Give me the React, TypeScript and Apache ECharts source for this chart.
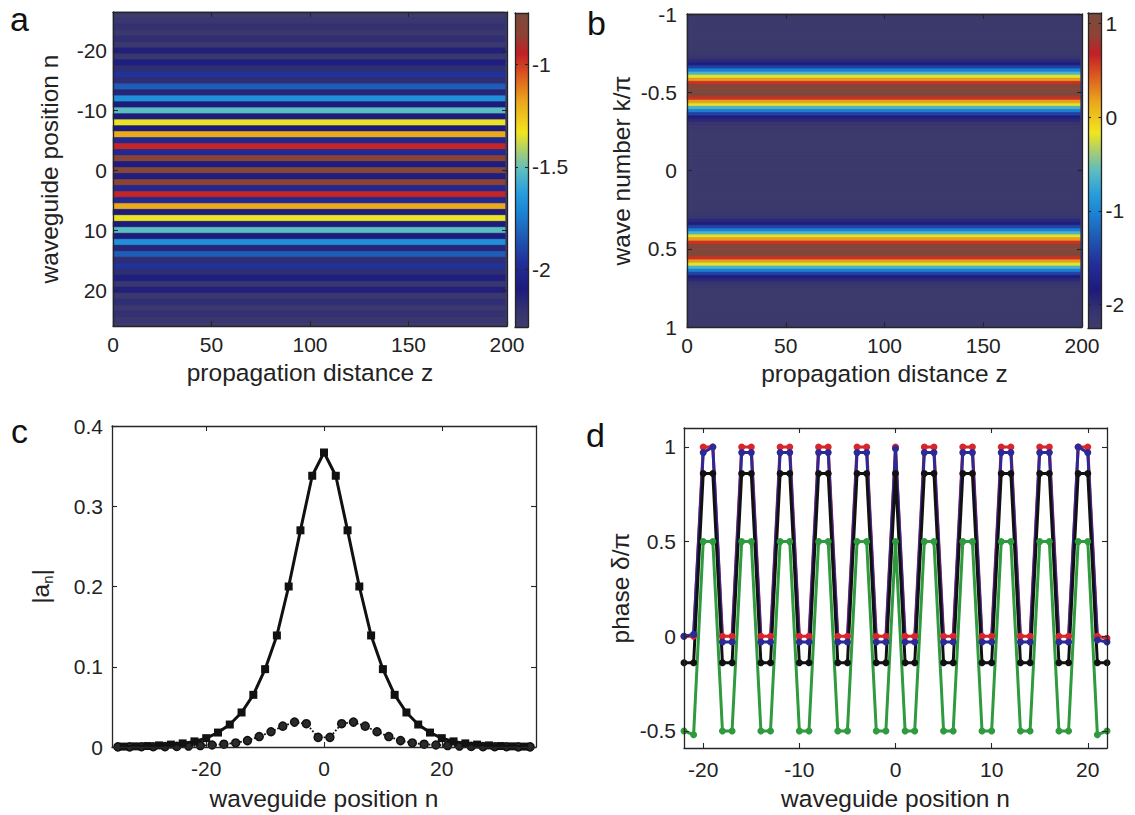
import React, { useEffect, useRef } from "react";
import * as echarts from "echarts";

const FONT = "'Liberation Sans', Arial, Helvetica, sans-serif";
const INK = "#262626";
const LABEL = "#222222";

// ---------- panel a : log intensity per waveguide row ----------
const waveguideRows = [
  -26, -25, -24, -23, -22, -21, -20, -19, -18, -17, -16, -15, -14, -13, -12, -11, -10, -9, -8, -7, -6, -5, -4, -3, -2, -1,
  0, 1, 2, 3, 4, 5, 6, 7, 8, 9, 10, 11, 12, 13, 14, 15, 16, 17, 18, 19, 20, 21, 22, 23, 24, 25, 26,
];
const intensityA = [
  -2.26, -2.23, -2.19, -2.24, -2.18, -2.24, -2.12, -2.23, -2.08, -2.18, -1.96, -2.18, -1.83, -2.14, -1.68, -2.1, -1.52,
  -2.1, -1.34, -2.1, -1.19, -2.0, -0.96, -2.0, -0.84, -2.08, -0.8, -2.08, -0.84, -2.0, -0.96, -2.0, -1.19, -2.1, -1.34,
  -2.1, -1.52, -2.1, -1.68, -2.14, -1.83, -2.18, -1.96, -2.18, -2.08, -2.23, -2.12, -2.24, -2.18, -2.24, -2.19, -2.23,
  -2.26,
];
const distanceSpan = [0, 199];
const distanceTicks = [0, 50, 100, 150, 200];
const waveguideTicksA = [-20, -10, 0, 10, 20];
const colorRangeA = [-2.28, -0.75];
const colorTicksA = [-2, -1.5, -1];

// ---------- panel b : spectrum vs wave number ----------
const waveNumberStep = 0.02;
const waveNumbers = Array.from({ length: 101 }, (_, i) => Math.round((-1 + i * waveNumberStep) * 100) / 100);
const spectrumB = [
  -2.2, -2.2, -2.2, -2.2, -2.2, -2.2, -2.2, -2.2, -2.2, -2.2, -2.2, -2.2, -2.2,
  -2.16, -2.1, -1.98, -1.8, -1.45, -1.05, -0.65, -0.2, 0.2, 0.6, 0.95, 1.05, 1.05, 0.95, 0.6, 0.2, -0.2, -0.65, -1.05,
  -1.45, -1.8, -1.98, -2.1, -2.16,
  -2.2, -2.2, -2.2, -2.2, -2.2, -2.2, -2.2, -2.2, -2.2, -2.2, -2.2, -2.2, -2.2, -2.2, -2.2, -2.2, -2.2, -2.2, -2.2,
  -2.2, -2.2, -2.2, -2.2, -2.2, -2.2, -2.2, -2.2,
  -2.16, -2.1, -1.98, -1.8, -1.45, -1.05, -0.65, -0.2, 0.2, 0.6, 0.95, 1.05, 1.05, 0.95, 0.6, 0.2, -0.2, -0.65, -1.05,
  -1.45, -1.8, -1.98, -2.1, -2.16,
  -2.2, -2.2, -2.2, -2.2, -2.2, -2.2, -2.2, -2.2, -2.2, -2.2, -2.2, -2.2, -2.2,
];
const waveNumberTicks = [-1, -0.5, 0, 0.5, 1];
const colorRangeB = [-2.25, 1.11];
const colorTicksB = [-2, -1, 0, 1];

// ---------- panel c : |a_n| ----------
const evenSites = [
  -34, -32, -30, -28, -26, -24, -22, -20, -18, -16, -14, -12, -10, -8, -6, -4, -2, 0, 2, 4, 6, 8, 10, 12, 14, 16, 18,
  20, 22, 24, 26, 28, 30, 32, 34,
];
const evenAmplitude = [
  0.0005, 0.0008, 0.0012, 0.002, 0.003, 0.0045, 0.007, 0.011, 0.018, 0.028, 0.043, 0.065, 0.097, 0.139, 0.2, 0.27,
  0.338, 0.367, 0.338, 0.27, 0.2, 0.139, 0.097, 0.065, 0.043, 0.028, 0.018, 0.011, 0.007, 0.0045, 0.003, 0.002, 0.0012,
  0.0008, 0.0005,
];
const oddSites = [
  -35, -33, -31, -29, -27, -25, -23, -21, -19, -17, -15, -13, -11, -9, -7, -5, -3, -1, 1, 3, 5, 7, 9, 11, 13, 15, 17,
  19, 21, 23, 25, 27, 29, 31, 33, 35,
];
const oddAmplitude = [
  0.0001, 0.0002, 0.0003, 0.0004, 0.0005, 0.0008, 0.0012, 0.0018, 0.0025, 0.0035, 0.005, 0.008, 0.013, 0.019, 0.026,
  0.031, 0.029, 0.012, 0.012, 0.029, 0.031, 0.026, 0.019, 0.013, 0.008, 0.005, 0.0035, 0.0025, 0.0018, 0.0012, 0.0008,
  0.0005, 0.0004, 0.0003, 0.0002, 0.0001,
];
const siteTicksC = [-20, 0, 20];
const amplitudeTicks = [0, 0.1, 0.2, 0.3, 0.4];

// ---------- panel d : phase ----------
const sitesD = [
  -22, -21, -20, -19, -18, -17, -16, -15, -14, -13, -12, -11, -10, -9, -8, -7, -6, -5, -4, -3, -2, -1, 0, 1, 2, 3, 4,
  5, 6, 7, 8, 9, 10, 11, 12, 13, 14, 15, 16, 17, 18, 19, 20, 21, 22,
];
const phaseRed = [
  0, 0, 1, 1, 0, 0, 1, 1, 0, 0, 1, 1, 0, 0, 1, 1, 0, 0, 1, 1, 0, 0, 1, 0, 0, 1, 1, 0, 0, 1, 1, 0, 0, 1, 1, 0, 0, 1, 1,
  0, 0, 1, 1, 0, -0.01,
];
const phaseBlue = [
  0, 0.01, 0.97, 1.0, -0.03, -0.03, 0.97, 0.97, -0.03, -0.03, 0.97, 0.97, -0.03, -0.03, 0.97, 0.97, -0.03, -0.03, 0.97,
  0.97, -0.03, -0.03, 0.99, -0.03, -0.03, 0.97, 0.97, -0.03, -0.03, 0.97, 0.97, -0.03, -0.03, 0.97, 0.97, -0.03, -0.03,
  0.97, 0.97, -0.03, -0.03, 1.0, 0.97, -0.02, -0.03,
];
const phaseBlack = [
  -0.14, -0.14, 0.86, 0.86, -0.14, -0.14, 0.86, 0.86, -0.14, -0.14, 0.86, 0.86, -0.14, -0.14, 0.86, 0.86, -0.14, -0.14,
  0.86, 0.86, -0.14, -0.14, 0.86, -0.14, -0.14, 0.86, 0.86, -0.14, -0.14, 0.86, 0.86, -0.14, -0.14, 0.86, 0.86, -0.14,
  -0.14, 0.86, 0.86, -0.14, -0.14, 0.86, 0.86, -0.14, -0.14,
];
const phaseGreen = [
  -0.5, -0.52, 0.5, 0.5, -0.5, -0.5, 0.5, 0.5, -0.5, -0.5, 0.5, 0.5, -0.5, -0.5, 0.5, 0.5, -0.5, -0.5, 0.5, 0.5, -0.5,
  -0.5, 0.5, -0.5, -0.5, 0.5, 0.5, -0.5, -0.5, 0.5, 0.5, -0.5, -0.5, 0.5, 0.5, -0.5, -0.5, 0.5, 0.5, -0.5, -0.5, 0.5,
  0.5, -0.52, -0.5,
];
const siteTicksD = [-20, -10, 0, 10, 20];
const phaseTicks = [-0.5, 0, 0.5, 1];

// ---------- colormap (style) ----------
const CMAP: [number, string][] = [
  [0.0, "#3f3d6c"],
  [0.05, "#363470"],
  [0.12, "#1d1b7c"],
  [0.2, "#222d97"],
  [0.29, "#1f5bb5"],
  [0.37, "#1b86d6"],
  [0.43, "#2a9fdb"],
  [0.5, "#5dbdc0"],
  [0.55, "#9bc97f"],
  [0.62, "#f2e51d"],
  [0.72, "#eaa51c"],
  [0.8, "#dc5a1f"],
  [0.87, "#c21f27"],
  [0.93, "#8e4234"],
  [1.0, "#7b4b3d"],
];

function hexToRgb(h: string) {
  return [parseInt(h.slice(1, 3), 16), parseInt(h.slice(3, 5), 16), parseInt(h.slice(5, 7), 16)];
}
function cmapAt(t: number) {
  for (let i = 0; i < CMAP.length - 1; i++) {
    const [t0, c0] = CMAP[i];
    const [t1, c1] = CMAP[i + 1];
    if (t >= t0 && t <= t1) {
      const f = (t - t0) / (t1 - t0 || 1);
      const a = hexToRgb(c0);
      const b = hexToRgb(c1);
      const m = a.map((v, k) => Math.round(v + (b[k] - v) * f));
      return `rgb(${m[0]},${m[1]},${m[2]})`;
    }
  }
  return CMAP[CMAP.length - 1][1];
}
const palette = Array.from({ length: 61 }, (_, i) => cmapAt(i / 60));
const barStops = CMAP.map(([t, c]) => ({ offset: 1 - t, color: c })).reverse();

const TITLE_SIZE = 24.5;
const TICK_SIZE = 21;

type AxisOpts = {
  min: number;
  max: number;
  ticks: number[];
  labels?: boolean;
  inverse?: boolean;
  name?: string;
  nameGap?: number;
  margin?: number;
  tickLen?: number;
  nameStyle?: any;
};

function makeAxis(gridIndex: number, position: string, o: AxisOpts) {
  return {
    type: "value",
    gridIndex,
    position,
    min: o.min,
    max: o.max,
    inverse: !!o.inverse,
    z: 10,
    name: o.name || "",
    nameLocation: "middle",
    nameGap: o.nameGap ?? 30,
    nameMoveOverlap: false,
    nameTextStyle: { fontFamily: FONT, fontSize: TITLE_SIZE, color: LABEL, ...(o.nameStyle || {}) },
    axisLine: { show: true, onZero: false, lineStyle: { color: INK, width: 1.3 } },
    axisTick: {
      show: o.ticks.length > 0,
      inside: true,
      length: o.tickLen ?? 5,
      customValues: o.ticks.length ? o.ticks : undefined,
      lineStyle: { color: INK, width: 1.1 },
    },
    axisLabel: {
      show: !!o.labels,
      customValues: o.ticks.length ? o.ticks : undefined,
      margin: o.margin ?? 8,
      fontFamily: FONT,
      fontSize: TICK_SIZE,
      color: LABEL,
      formatter: (v: number) => String(v),
    },
    splitLine: { show: false },
  };
}

function rowRenderer(span: number[], half: number) {
  return (params: any, api: any) => {
    const pos = api.value(0);
    const p = api.coord([span[0], pos - half]);
    const q = api.coord([span[1], pos + half]);
    const cs = params.coordSys;
    const shape = echarts.graphic.clipRectByRect(
      { x: Math.min(p[0], q[0]), y: Math.min(p[1], q[1]), width: Math.abs(q[0] - p[0]), height: Math.abs(q[1] - p[1]) },
      { x: cs.x, y: cs.y, width: cs.width, height: cs.height }
    );
    if (!shape) return null;
    const c = api.visual("color");
    return { type: "rect", shape, style: { fill: c, stroke: c, lineWidth: 0.6 } };
  };
}

function barRenderer(params: any, api: any) {
  const top = api.coord([0, api.value(2)]);
  const bot = api.coord([1, api.value(1)]);
  return {
    type: "rect",
    shape: { x: top[0], y: top[1], width: bot[0] - top[0], height: bot[1] - top[1] },
    style: { fill: { type: "linear", x: 0, y: 0, x2: 0, y2: 1, colorStops: barStops } },
  };
}

export default function App() {
  const ref = useRef<HTMLDivElement>(null);
  useEffect(() => {
    if (!ref.current) return;
    const chart = echarts.init(ref.current, null, { renderer: "svg" });

    const grids = [
      { left: 113, top: 12, width: 394, height: 314, show: true, backgroundColor: "#3e3c6c", borderWidth: 0 },
      { left: 515, top: 13, width: 13, height: 314 },
      { left: 687, top: 14, width: 395, height: 313, show: true, backgroundColor: "#3e3c6c", borderWidth: 0 },
      { left: 1088, top: 13, width: 13.5, height: 315 },
      { left: 112, top: 426, width: 424, height: 321 },
      { left: 684, top: 428, width: 423, height: 320 },
    ].map((g) => ({ ...g, outerBoundsMode: "none", containLabel: false }));

    const xAxes = [
      makeAxis(0, "bottom", { min: 0, max: 200, ticks: distanceTicks, labels: true, name: "propagation distance z", nameGap: 34, margin: 8 }),
      makeAxis(0, "top", { min: 0, max: 200, ticks: distanceTicks }),
      makeAxis(1, "bottom", { min: 0, max: 1, ticks: [] }),
      makeAxis(1, "top", { min: 0, max: 1, ticks: [] }),
      makeAxis(2, "bottom", { min: 0, max: 200, ticks: distanceTicks, labels: true, name: "propagation distance z", nameGap: 34, margin: 8 }),
      makeAxis(2, "top", { min: 0, max: 200, ticks: distanceTicks }),
      makeAxis(3, "bottom", { min: 0, max: 1, ticks: [] }),
      makeAxis(3, "top", { min: 0, max: 1, ticks: [] }),
      makeAxis(4, "bottom", { min: -36, max: 36, ticks: siteTicksC, labels: true, name: "waveguide position n", nameGap: 39, margin: 11 }),
      makeAxis(4, "top", { min: -36, max: 36, ticks: siteTicksC }),
      makeAxis(5, "bottom", { min: -22, max: 22, ticks: siteTicksD, labels: true, name: "waveguide position n", nameGap: 38, margin: 11 }),
      makeAxis(5, "top", { min: -22, max: 22, ticks: siteTicksD }),
    ];

    const yAxes = [
      makeAxis(0, "left", { min: -26.5, max: 26, inverse: true, ticks: waveguideTicksA, labels: true, name: "waveguide position n", nameGap: 51, margin: 6 }),
      makeAxis(0, "right", { min: -26.5, max: 26, inverse: true, ticks: waveguideTicksA }),
      makeAxis(1, "left", { min: colorRangeA[0], max: colorRangeA[1], ticks: colorTicksA, tickLen: 3 }),
      makeAxis(1, "right", { min: colorRangeA[0], max: colorRangeA[1], ticks: colorTicksA, tickLen: 3, labels: true, margin: 4 }),
      makeAxis(2, "left", { min: -1, max: 1, inverse: true, ticks: waveNumberTicks, labels: true, name: "wave number k/π", nameGap: 53, margin: 10 }),
      makeAxis(2, "right", { min: -1, max: 1, inverse: true, ticks: waveNumberTicks }),
      makeAxis(3, "left", { min: colorRangeB[0], max: colorRangeB[1], ticks: colorTicksB, tickLen: 3 }),
      makeAxis(3, "right", { min: colorRangeB[0], max: colorRangeB[1], ticks: colorTicksB, tickLen: 3, labels: true, margin: 4 }),
      makeAxis(4, "left", {
        min: 0,
        max: 0.4,
        ticks: amplitudeTicks,
        labels: true,
        name: "|a{s|n}|",
        nameGap: 57,
        margin: 9,
        nameStyle: { lineHeight: 30, rich: { s: { fontSize: 15, fontFamily: FONT, color: LABEL, verticalAlign: "bottom" } } },
      }),
      makeAxis(4, "right", { min: 0, max: 0.4, ticks: amplitudeTicks }),
      makeAxis(5, "left", { min: -0.59, max: 1.1, ticks: phaseTicks, labels: true, name: "phase δ/π", nameGap: 51, margin: 8 }),
      makeAxis(5, "right", { min: -0.59, max: 1.1, ticks: phaseTicks }),
    ];

    const lineSeries = (data: number[][], color: string, extra: any = {}) => ({
      type: "line",
      xAxisIndex: 10,
      yAxisIndex: 10,
      data,
      symbol: "circle",
      symbolSize: 7,
      lineStyle: { color, width: 3 },
      itemStyle: { color },
      ...extra,
    });

    const option: any = {
      animation: false,
      backgroundColor: "#ffffff",
      grid: grids,
      xAxis: xAxes,
      yAxis: yAxes,
      visualMap: [
        { type: "continuous", show: false, seriesIndex: 0, dimension: 1, min: colorRangeA[0], max: colorRangeA[1], inRange: { color: palette } },
        { type: "continuous", show: false, seriesIndex: 2, dimension: 1, min: colorRangeB[0], max: colorRangeB[1], inRange: { color: palette } },
      ],
      series: [
        {
          type: "custom",
          xAxisIndex: 0,
          yAxisIndex: 0,
          renderItem: rowRenderer(distanceSpan, 0.5),
          data: waveguideRows.map((n, i) => [n, intensityA[i]]),
          z: 2,
        },
        {
          type: "custom",
          xAxisIndex: 2,
          yAxisIndex: 2,
          renderItem: barRenderer,
          data: [[0, colorRangeA[0], colorRangeA[1]]],
        },
        {
          type: "custom",
          xAxisIndex: 4,
          yAxisIndex: 4,
          renderItem: rowRenderer(distanceSpan, waveNumberStep / 2),
          data: waveNumbers.map((k, i) => [k, spectrumB[i]]),
          z: 2,
        },
        {
          type: "custom",
          xAxisIndex: 6,
          yAxisIndex: 6,
          renderItem: barRenderer,
          data: [[0, colorRangeB[0], colorRangeB[1]]],
        },
        {
          type: "line",
          xAxisIndex: 8,
          yAxisIndex: 8,
          data: evenSites.map((n, i) => [n, evenAmplitude[i]]),
          symbol: "rect",
          symbolSize: 8,
          lineStyle: { color: "#111", width: 3 },
          itemStyle: { color: "#111" },
          z: 4,
        },
        {
          type: "line",
          xAxisIndex: 8,
          yAxisIndex: 8,
          data: oddSites.map((n, i) => [n, oddAmplitude[i]]),
          symbol: "circle",
          symbolSize: 8,
          lineStyle: { color: "#111", width: 1.8, type: "dotted" },
          itemStyle: { color: "#2a2a2a", borderColor: "#111", borderWidth: 1.5 },
          z: 3,
        },
        lineSeries(sitesD.map((n, i) => [n, phaseRed[i]]), "#d8262a"),
        lineSeries(sitesD.map((n, i) => [n, phaseBlue[i]]), "#2b2a96"),
        lineSeries(sitesD.map((n, i) => [n, phaseBlack[i]]), "#111111"),
        lineSeries(sitesD.map((n, i) => [n, phaseGreen[i]]), "#2f9a3e"),
      ],
      graphic: [
        { type: "text", x: 10, y: 19, style: { text: "a", fontSize: 34, fontFamily: FONT, fill: "#111", verticalAlign: "middle" } },
        { type: "text", x: 587, y: 23, style: { text: "b", fontSize: 34, fontFamily: FONT, fill: "#111", verticalAlign: "middle" } },
        { type: "text", x: 11, y: 431, style: { text: "c", fontSize: 34, fontFamily: FONT, fill: "#111", verticalAlign: "middle" } },
        { type: "text", x: 586, y: 435, style: { text: "d", fontSize: 34, fontFamily: FONT, fill: "#111", verticalAlign: "middle" } },
      ],
    };

    chart.setOption(option);
    return () => chart.dispose();
  }, []);

  return <div ref={ref} style={{ position: "absolute", left: 0, top: 0, width: 1135, height: 815 }} />;
}
